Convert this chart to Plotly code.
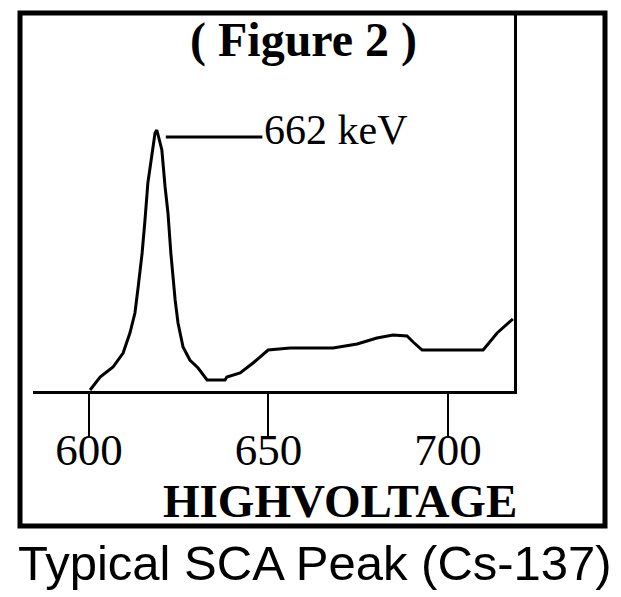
import plotly.graph_objects as go

# High voltage (V) and relative counts
voltage = [600.3, 603.1, 606.7, 609.5, 611.4, 612.8, 613.7, 614.8, 615.6, 616.4,
           617.6, 618.4, 618.9, 620.3, 621.2, 622.0, 622.8, 624.0, 624.8, 626.2,
           628.1, 630.4, 632.9, 637.9, 638.4, 642.1, 645.7, 647.6, 649.9, 656.0,
           668.0, 674.7, 680.2, 684.7, 688.6, 690.3, 692.8, 709.8, 713.7, 718.1]
counts = [4, 56, 96, 152, 232, 312, 416, 552, 684, 832,
          952, 1032, 1044, 964, 816, 712, 552, 364, 272, 176,
          124, 92, 44, 44, 56, 72, 112, 136, 164, 172,
          172, 188, 212, 224, 220, 196, 164, 164, 232, 288]

tick_values = [600, 650, 700]
tick_labels = ["600", "650", "700"]

peak_v = 618.9
peak_c = 1044

W, H = 621, 597
L, R, T, B = 33, 107, 14, 206
pw, ph = W - L - R, H - T - B

def px(x):
    return (x - L) / pw

def py(y):
    return (H - B - y) / ph

SERIF = "Liberation Serif"
SANS = "Liberation Sans"

fig = go.Figure()
fig.add_trace(go.Scatter(x=voltage, y=counts, mode="lines",
                         line=dict(color="black", width=3), hoverinfo="skip",
                         showlegend=False))

fig.update_layout(
    width=W, height=H,
    margin=dict(l=L, r=R, t=T, b=B, pad=0),
    paper_bgcolor="white", plot_bgcolor="white",
    xaxis=dict(range=[584.4, 718.4], tickvals=tick_values, ticktext=tick_labels,
               ticks="outside", ticklen=42, tickwidth=2, tickcolor="black",
               ticklabelstandoff=-25,
               showline=True, linewidth=3, linecolor="black",
               showgrid=False, zeroline=False,
               tickfont=dict(family=SERIF, size=45, color="black")),
    yaxis=dict(range=[0, 1508], side="right", showline=True, linewidth=3,
               linecolor="black", showticklabels=False, ticks="",
               showgrid=False, zeroline=False),
    shapes=[
        dict(type="rect", xref="paper", yref="paper",
             x0=px(20), x1=px(605), y0=py(526), y1=py(13),
             line=dict(color="black", width=5)),
        dict(type="line", xref="x", yref="paper",
             x0=peak_v + 2.5, x1=peak_v + 29.4, y0=py(137), y1=py(137),
             line=dict(color="black", width=3)),
    ],
    annotations=[
        dict(text="<b>( Figure 2 )</b>", xref="paper", yref="paper",
             x=px(303), y=py(40), xanchor="center", yanchor="middle",
             showarrow=False, font=dict(family=SERIF, size=48, color="black")),
        dict(text="662 keV", xref="x", yref="paper",
             x=peak_v + 29.4, y=py(130), xanchor="left", yanchor="middle",
             showarrow=False, font=dict(family=SERIF, size=42, color="black")),
        dict(text="<b>HIGHVOLTAGE</b>", xref="paper", yref="paper",
             x=px(340), y=py(501), xanchor="center", yanchor="middle",
             showarrow=False, font=dict(family=SERIF, size=47, color="black")),
        dict(text="Typical SCA Peak (Cs-137)", xref="paper", yref="paper",
             x=px(315), y=py(563), xanchor="center", yanchor="middle",
             showarrow=False, font=dict(family=SANS, size=49, color="black")),
    ],
)

fig.write_html("out.html")
